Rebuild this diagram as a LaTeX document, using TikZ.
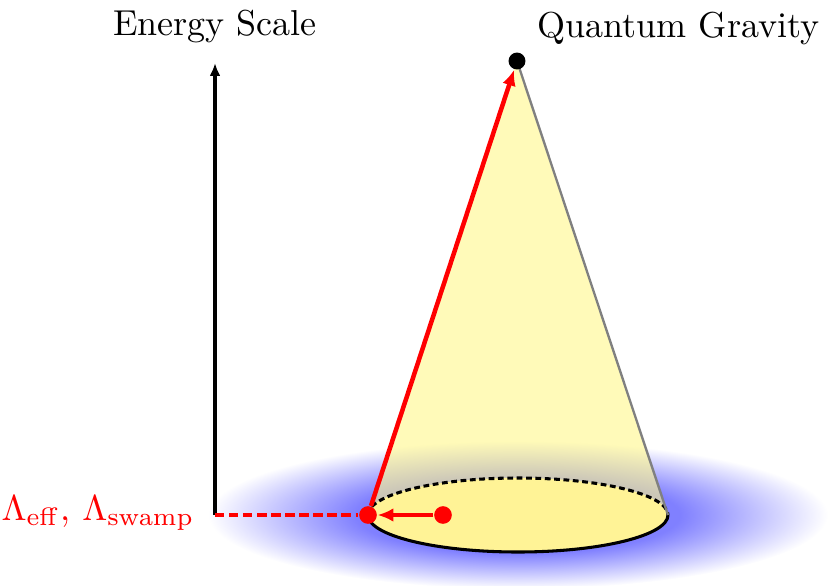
\documentclass[tikz,border=0pt]{standalone}
\usetikzlibrary{arrows.meta}
\pgfdeclareradialshading{swampglow}{\pgfpoint{0bp}{0bp}}{color(0bp)=(blue!50); color(13bp)=(blue!50); color(25bp)=(white); color(50bp)=(white)}
\definecolor{basefill}{RGB}{255,243,150}
\definecolor{conecol}{RGB}{255,247,138}
\tikzset{
  reddot/.style={circle, fill=red, inner sep=0pt, minimum size=4.9pt},
  blackdot/.style={circle, fill=black, inner sep=0pt, minimum size=4.7pt},
  redarrow/.style={red, line width=1.25pt, -{Latex[length=4.4pt,width=3.8pt]}},
  energyarrow/.style={black, line width=1pt, -{Latex[length=3.6pt,width=3pt]}},
  reddash/.style={red, line width=1.15pt, dash pattern=on 2.6pt off 1.3pt},
  lbl/.style={inner sep=0pt, font=\normalsize}
}
\begin{document}
\begin{tikzpicture}[x=0.2775pt, y=-0.2775pt]
\useasboundingbox (0,0) rectangle (828,585);
% blue glow
\shade[shading=swampglow] (518,515) ellipse [x radius=310, y radius=74];
% cone body
\fill[conecol, fill opacity=0.6] (517,61) -- (368,515) -- (668,515) -- cycle;
% base ellipse
\fill[basefill] (518,515) ellipse [x radius=150, y radius=37];
\draw[black, line width=0.85pt] (368,515) arc[start angle=180, end angle=0, x radius=150, y radius=37];
\draw[black, line width=0.85pt, dash pattern=on 1.6pt off 1pt] (368,515) arc[start angle=180, end angle=360, x radius=150, y radius=37];
\draw[black!50, line width=0.65pt] (517,61) -- (668,515);
% nodes
\node[reddot] (L) at (368,515) {};
\node[reddot] (R) at (443,515) {};
\node[blackdot] (Q) at (517,61) {};
\coordinate (E0) at (215,515);
\coordinate (E1) at (215,63);
% connectors
\draw[energyarrow] (E0) -- (E1);
\draw[reddash] (E0) -- (L);
\draw[redarrow] (R) -- (L);
\draw[redarrow] (L) -- (Q);
% labels
\node[lbl, anchor=base] (es) at (215,35) {Energy Scale};
\node[lbl, anchor=base west] (qg) at (537,37) {Quantum Gravity};
\node[lbl, anchor=base east, text=red] (lam) at (195,520) {$\Lambda_{\mathrm{eff}}$, $\Lambda_{\mathrm{swamp}}$};
\end{tikzpicture}
\end{document}
